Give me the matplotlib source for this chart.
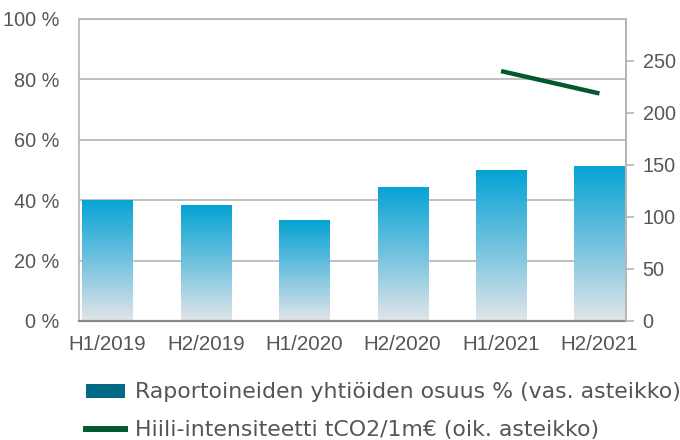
import matplotlib.pyplot as plt
import numpy as np
from matplotlib.patches import Patch
from matplotlib.lines import Line2D
from matplotlib.colors import LinearSegmentedColormap

# Data
periods = ['H1/2019', 'H2/2019', 'H1/2020', 'H2/2020', 'H1/2021', 'H2/2021']
share_pct = [40.2, 38.4, 33.3, 44.5, 50.0, 51.4]
intensity = [np.nan, np.nan, np.nan, np.nan, 240, 218.5]

plt.rcParams['font.family'] = ['Liberation Sans', 'DejaVu Sans']

fig = plt.figure(figsize=(6.8, 4.4), dpi=100)
ax1 = fig.add_axes([79/680, 1 - 321/440, 547/680, 302/440])
ax2 = ax1.twinx()

x = np.arange(len(periods))
bars = ax1.bar(x, share_pct, width=0.51, color='none', zorder=2)

# gradient fill for the bars
cmap = LinearSegmentedColormap.from_list('bluefade', ['#e2e5e9', '#72c2df', '#05a3d4'])
grad = np.linspace(0, 1, 256).reshape(-1, 1)
for b in bars:
    bx, by = b.get_x(), b.get_y()
    w, h = b.get_width(), b.get_height()
    im = ax1.imshow(grad, cmap=cmap, origin='lower', aspect='auto',
                    extent=[bx, bx + w, by, by + h], zorder=2)
    im.set_clip_path(b)

ax1.set_xlim(-0.29, 5.27)
ax1.set_ylim(0, 100)
ax1.set_yticks(range(0, 101, 20))
ax1.set_yticklabels([f'{v} %' for v in range(0, 101, 20)])
ax1.set_xticks(x)
ax1.set_xticklabels(periods)
ax1.grid(axis='y', color='#b5b5b5', linewidth=1.2, zorder=0)
ax1.set_axisbelow(True)
ax1.tick_params(axis='y', length=0, labelsize=14.3, labelcolor='#555555', pad=14)
ax1.tick_params(axis='x', length=0, labelsize=14.8, labelcolor='#555555', pad=10)

for sp in ['top', 'left', 'right']:
    ax1.spines[sp].set_color('#b5b5b5')
    ax1.spines[sp].set_linewidth(1.2)
ax1.spines['bottom'].set_color('#8a8a8a')
ax1.spines['bottom'].set_linewidth(1.6)

ax2.plot(x, intensity, color='#005a2b', linewidth=3.2, solid_capstyle='butt', zorder=3)
ax2.set_ylim(0, 290)
ax2.set_yticks(range(0, 251, 50))
ax2.tick_params(axis='y', length=6, width=1.2, color='#b5b5b5', labelsize=14.3,
                labelcolor='#555555', pad=6)
for sp in ax2.spines.values():
    sp.set_visible(False)
ax2.spines['right'].set_visible(True)
ax2.spines['right'].set_color('#b5b5b5')
ax2.spines['right'].set_linewidth(1.2)

handles = [Patch(facecolor='#006a87', edgecolor='none'),
           Line2D([0], [0], color='#005a2b', linewidth=4.3)]
labels = ['Raportoineiden yhtiöiden osuus % (vas. asteikko)',
          'Hiili-intensiteetti tCO2/1m€ (oik. asteikko)']
fig.legend(handles, labels, loc='upper left', bbox_to_anchor=(0.1265, 0.131),
           frameon=False, handlelength=1.78, handleheight=0.6, handletextpad=0.45,
           labelspacing=0.8, borderpad=0, borderaxespad=0,
           prop={'family': ['DejaVu Sans'], 'size': 15.8},
           labelcolor='#555555')

fig.savefig('out.png', dpi=100)
